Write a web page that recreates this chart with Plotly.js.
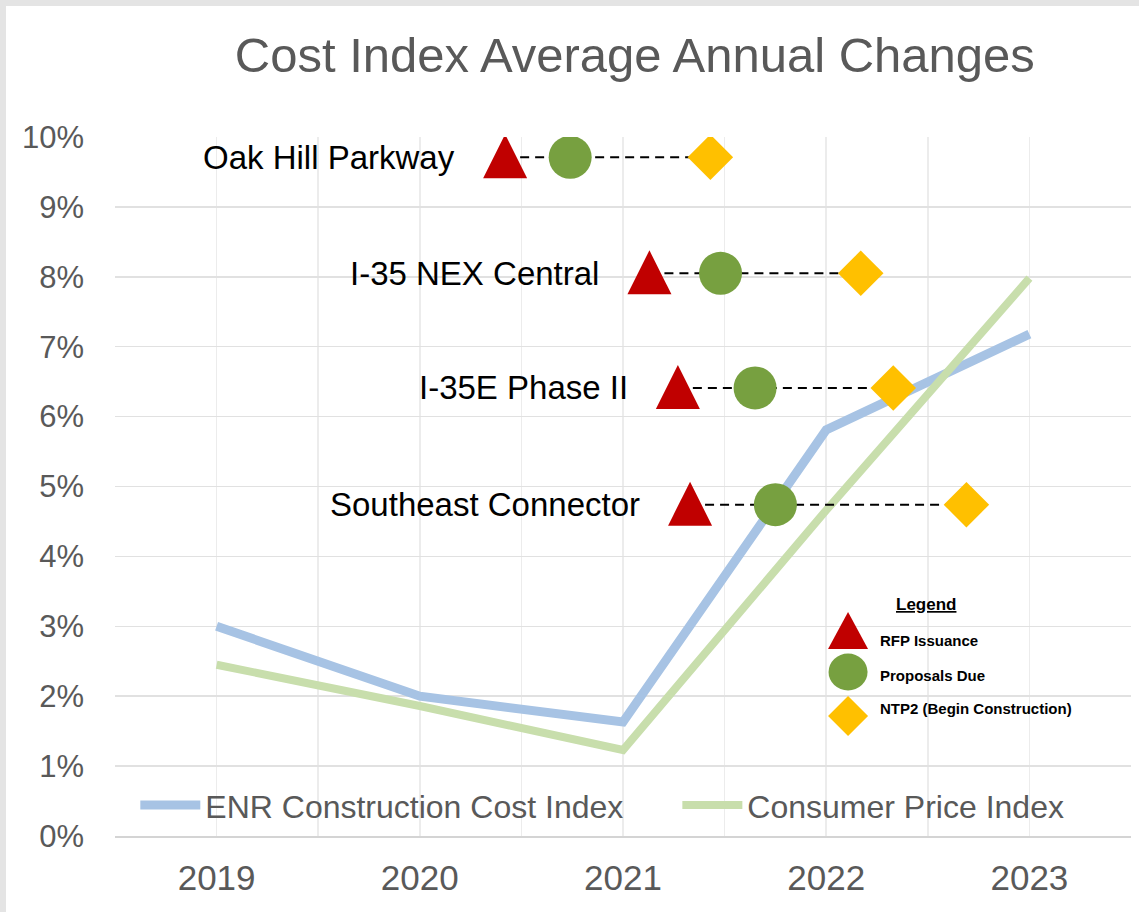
<!DOCTYPE html>
<html>
<head>
<meta charset="utf-8">
<script src="https://cdn.plot.ly/plotly-3.0.1.min.js"></script>
<style>
  html, body { margin: 0; padding: 0; background: #e4e4e4; width: 1139px; height: 912px; overflow: hidden; }
  #chart { position: absolute; left: 6px; top: 6px; width: 1133px; height: 906px; background: #fff; }
</style>
</head>
<body>
<div id="chart"></div>
<script>
// ---- data ----
const years = [2019, 2020, 2021, 2022, 2023];
const enrIndex = [3.0, 2.0, 1.63, 5.81, 7.18];
const cpiIndex = [2.45, 1.86, 1.23, 4.66, 7.98];

const projects = ['Oak Hill Parkway', 'I-35 NEX Central', 'I-35E Phase II', 'Southeast Connector'];
const projectLevel = [9.71, 8.05, 6.41, 4.74];
const rfpIssuance = [2020.42, 2021.13, 2021.27, 2021.33];
const proposalsDue = [2020.74, 2021.48, 2021.65, 2021.75];
const ntp2Begin = [2021.43, 2022.17, 2022.33, 2022.69];

const keyLabels = ['RFP Issuance', 'Proposals Due', 'NTP2 (Begin Construction)'];

// ---- styles ----
const RED = '#C00000', GREEN = '#77A040', GOLD = '#FFC000';
const FONT = 'Liberation Sans, Arial, sans-serif';
const GREY_TXT = '#595959';

const traces = [];
traces.push({
  x: years, y: enrIndex, type: 'scatter', mode: 'lines', name: 'ENR Construction Cost Index',
  line: { color: '#A7C3E4', width: 9 }, hoverinfo: 'skip', legend: 'legend'
});
traces.push({
  x: years, y: cpiIndex, type: 'scatter', mode: 'lines', name: 'Consumer Price Index',
  line: { color: '#C8DEAC', width: 8 }, hoverinfo: 'skip', legend: 'legend2'
});
projects.forEach((p, i) => {
  traces.push({
    x: [rfpIssuance[i], ntp2Begin[i]], y: [projectLevel[i], projectLevel[i]],
    type: 'scatter', mode: 'lines', showlegend: false, hoverinfo: 'skip',
    line: { color: '#000', width: 2, dash: '9px,6px' }
  });
});
traces.push({
  x: proposalsDue, y: projectLevel, type: 'scatter', mode: 'markers', showlegend: false,
  marker: { symbol: 'circle', size: 43, color: GREEN }, hoverinfo: 'skip'
});
traces.push({
  x: ntp2Begin, y: projectLevel, type: 'scatter', mode: 'markers', showlegend: false,
  marker: { symbol: 'diamond', size: 35, color: GOLD }, hoverinfo: 'skip'
});

const triPath = 'M-22,-21 L22,-21 L0,23 Z';
const shapes = projects.map((p, i) => ({
  type: 'path', xref: 'x', yref: 'y', xsizemode: 'pixel', ysizemode: 'pixel',
  xanchor: rfpIssuance[i], yanchor: projectLevel[i], path: triPath,
  fillcolor: RED, line: { width: 0 }, layer: 'above'
}));

// legend key (mini legend box)
const keyX = 0.7215;
const keyY = [0.2933, 0.2346, 0.1717];
const keyTextY = [0.2804, 0.2303, 0.1831];
shapes.push({
  type: 'path', xref: 'paper', yref: 'paper', xsizemode: 'pixel', ysizemode: 'pixel',
  xanchor: keyX, yanchor: keyY[0], path: 'M-20,-18 L20,-18 L0,19 Z',
  fillcolor: RED, line: { width: 0 }
});
shapes.push({
  type: 'circle', xref: 'paper', yref: 'paper', xsizemode: 'pixel', ysizemode: 'pixel',
  xanchor: keyX, yanchor: keyY[1], x0: -19.5, x1: 19.5, y0: -18.5, y1: 18.5,
  fillcolor: GREEN, line: { width: 0 }
});
shapes.push({
  type: 'path', xref: 'paper', yref: 'paper', xsizemode: 'pixel', ysizemode: 'pixel',
  xanchor: keyX, yanchor: keyY[2], path: 'M0,20 L20,0 L0,-20 L-20,0 Z',
  fillcolor: GOLD, line: { width: 0 }
});

const annotations = projects.map((p, i) => ({
  text: p, x: rfpIssuance[i], y: projectLevel[i], xref: 'x', yref: 'y',
  xanchor: 'right', yanchor: 'middle', xshift: -48, showarrow: false,
  font: { family: FONT, size: 33, color: '#000' }
}));
annotations.push({
  text: '<b><u>Legend</u></b>', xref: 'paper', yref: 'paper', x: 0.7985, y: 0.331,
  xanchor: 'center', yanchor: 'middle', showarrow: false,
  font: { family: FONT, size: 17, color: '#000' }
});
keyLabels.forEach((t, i) => {
  annotations.push({
    text: '<b>' + t + '</b>', xref: 'paper', yref: 'paper', x: 0.751, y: keyTextY[i],
    xanchor: 'left', yanchor: 'middle', showarrow: false,
    font: { family: FONT, size: 15, color: '#000' }
  });
});

const legendBase = {
  orientation: 'h', y: 0.044, xanchor: 'left', yanchor: 'middle',
  bgcolor: 'rgba(0,0,0,0)', font: { family: FONT, size: 32, color: GREY_TXT },
  itemwidth: 60
};

const layout = {
  width: 1133, height: 906,
  margin: { l: 109, r: 8, t: 131, b: 76 },
  paper_bgcolor: '#fff', plot_bgcolor: '#fff',
  title: {
    text: 'Cost Index Average Annual Changes', xref: 'container', yref: 'container',
    x: 0.555, y: 0.946, xanchor: 'center', yanchor: 'middle',
    font: { family: FONT, size: 49, color: GREY_TXT }
  },
  xaxis: {
    type: 'linear', range: [2018.5, 2023.5], tickmode: 'linear', tick0: 2019, dtick: 1,
    tickformat: 'd', showgrid: true, gridcolor: '#ececec', gridwidth: 1.5,
    minor: { dtick: 0.5, showgrid: true, gridcolor: '#ececec', gridwidth: 1.5 },
    showline: true, linecolor: '#d4d4d4', linewidth: 2, zeroline: false, ticks: '',
    ticklabelstandoff: 10,
    tickfont: { family: FONT, size: 35, color: GREY_TXT }, fixedrange: true
  },
  yaxis: {
    range: [0, 10], dtick: 1, ticksuffix: '%', showgrid: true, gridcolor: '#e1e1e1', gridwidth: 1.5,
    zeroline: false, showline: false, ticks: '', ticklabelstandoff: 30,
    tickfont: { family: FONT, size: 31, color: GREY_TXT }, fixedrange: true
  },
  showlegend: true,
  legend: Object.assign({}, legendBase, { x: 0.02 }),
  legend2: Object.assign({}, legendBase, { x: 0.5535 }),
  shapes: shapes,
  annotations: annotations
};

Plotly.newPlot('chart', traces, layout, { displayModeBar: false, staticPlot: true });
</script>
</body>
</html>
